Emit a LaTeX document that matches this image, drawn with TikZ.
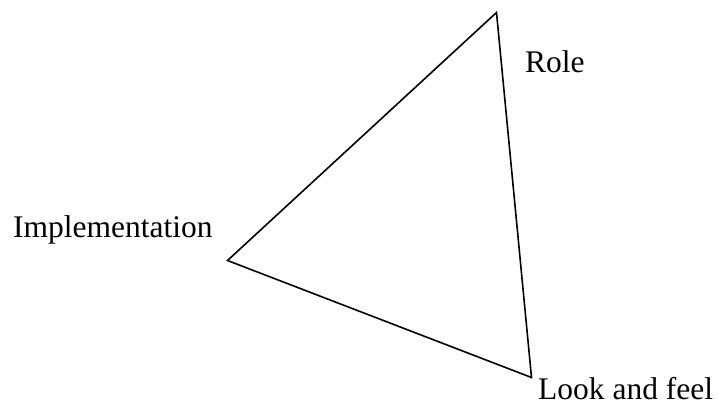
\documentclass[tikz,border=0pt]{standalone}
\usepackage{fontspec}
\setmainfont{Liberation Serif}
\usetikzlibrary{positioning}
\tikzset{
    label/.style = {inner sep=0pt, anchor=base west,
        font=\fontsize{31.5}{36}\selectfont},
    side/.style  = {draw, line width=1.6pt, line join=miter}
}

\begin{document}
\begin{tikzpicture}[x=1pt, y=-1pt]
  \useasboundingbox (0,0) rectangle (719,405);

  \coordinate (top) at (496.5,12.5);
  \coordinate (left) at (227.5,260.5);
  \coordinate (bottom) at (531.5,377.5);

  \node [label] (role) at (525,72.5) {Role};
  \node [label] (impl) at (13,237) {Implementation};
  \node [label] (look) at (538,399) {Look and feel};

  \draw [side] (top) -- (left) -- (bottom) -- cycle;
\end{tikzpicture}
\end{document}
